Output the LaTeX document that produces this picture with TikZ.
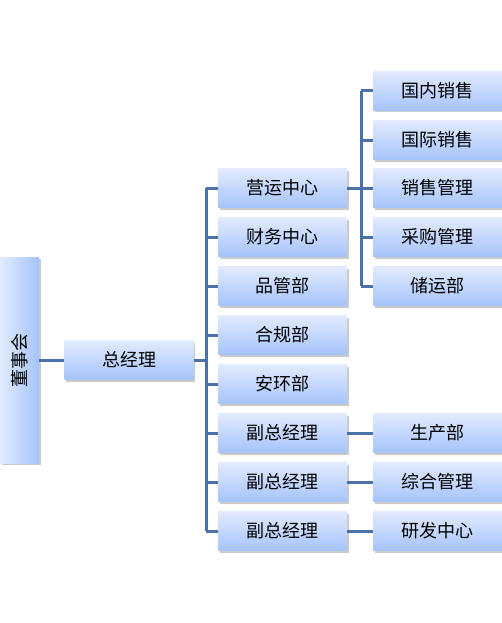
\documentclass[tikz,border=0pt]{standalone}
\usepackage{fontspec}
\setmainfont{Noto Sans CJK SC}
\usetikzlibrary{shadows}

\tikzset{
    unit/.style={minimum width=129pt, minimum height=39pt, inner sep=0pt,
        top color=boxtop, bottom color=boxbottom,
        drop shadow={shadow xshift=1.5pt, shadow yshift=-2pt, opacity=0.35, fill=black!60},
        font=\fontsize{18}{20}\selectfont},
    link/.style={draw=linkblue, line width=3pt}
}

\begin{document}
\begin{tikzpicture}[x=1pt, y=-1pt]
    \definecolor{boxtop}{HTML}{E2EBFE}
    \definecolor{boxbottom}{HTML}{A5C3FB}
    \definecolor{linkblue}{HTML}{4A72A8}

    \useasboundingbox (0,0) rectangle (502,623);

    % board and general manager
    \node[unit, minimum width=39pt, minimum height=206pt,
        left color=boxtop, right color=boxbottom] (board) at (19.5,360) {\rotatebox{90}{董事会}};
    \node[unit] (general_manager) at (129,360) {总经理};

    % second level
    \node[unit] (ops_center) at (282.5,188) {营运中心};
    \node[unit] (finance_center) at (282.5,237) {财务中心};
    \node[unit] (quality_dept) at (282.5,286) {品管部};
    \node[unit] (compliance_dept) at (282.5,335) {合规部};
    \node[unit] (safety_dept) at (282.5,384) {安环部};
    \node[unit] (deputy_a) at (282.5,433) {副总经理};
    \node[unit] (deputy_b) at (282.5,482) {副总经理};
    \node[unit] (deputy_c) at (282.5,531) {副总经理};

    % third level
    \node[unit] (domestic_sales) at (437.5,91) {国内销售};
    \node[unit] (intl_sales) at (437.5,140) {国际销售};
    \node[unit] (sales_mgmt) at (437.5,188) {销售管理};
    \node[unit] (purchase_mgmt) at (437.5,237) {采购管理};
    \node[unit] (logistics_dept) at (437.5,286) {储运部};
    \node[unit] (production_dept) at (437.5,433) {生产部};
    \node[unit] (general_mgmt) at (437.5,482) {综合管理};
    \node[unit] (rnd_center) at (437.5,531) {研发中心};

    \coordinate (trunk_top) at (206,188);
    \coordinate (trunk_bottom) at (206,531);
    \coordinate (trunk_mid) at (206,360);
    \coordinate (ops_top) at (361,91);
    \coordinate (ops_bottom) at (361,286);
    \coordinate (ops_mid) at (361,188);

    \path[link] (board.east) -- (general_manager.west);
    \path[link] (general_manager.east) -- (trunk_mid);
    \path[link] (trunk_top) -- (trunk_bottom);
    \path[link] (trunk_top) -- (ops_center.west);
    \path[link] (trunk_top |- finance_center) -- (finance_center.west);
    \path[link] (trunk_top |- quality_dept) -- (quality_dept.west);
    \path[link] (trunk_top |- compliance_dept) -- (compliance_dept.west);
    \path[link] (trunk_top |- safety_dept) -- (safety_dept.west);
    \path[link] (trunk_top |- deputy_a) -- (deputy_a.west);
    \path[link] (trunk_top |- deputy_b) -- (deputy_b.west);
    \path[link] (trunk_bottom) -- (deputy_c.west);

    \path[link] (ops_center.east) -- (ops_mid);
    \path[link] (ops_top) -- (ops_bottom);
    \path[link] (ops_top) -- (domestic_sales.west);
    \path[link] (ops_top |- intl_sales) -- (intl_sales.west);
    \path[link] (ops_mid) -- (sales_mgmt.west);
    \path[link] (ops_top |- purchase_mgmt) -- (purchase_mgmt.west);
    \path[link] (ops_bottom) -- (logistics_dept.west);

    \path[link] (deputy_a.east) -- (production_dept.west);
    \path[link] (deputy_b.east) -- (general_mgmt.west);
    \path[link] (deputy_c.east) -- (rnd_center.west);
\end{tikzpicture}
\end{document}
